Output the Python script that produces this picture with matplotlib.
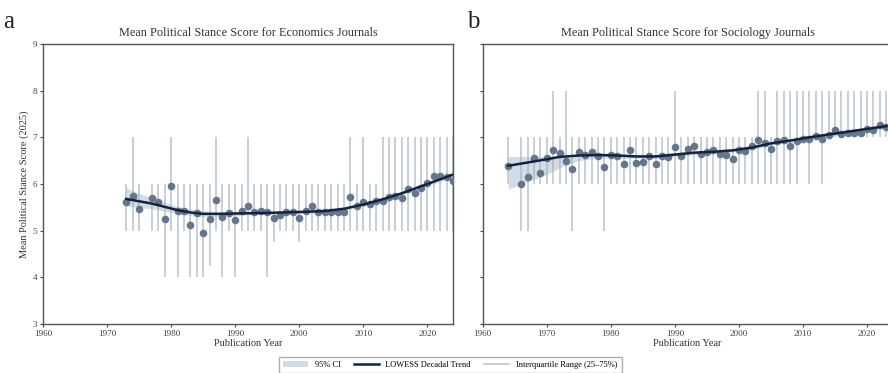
import matplotlib
matplotlib.use('Agg')
import matplotlib.pyplot as plt
from matplotlib.patches import Patch
from matplotlib.lines import Line2D

plt.rcParams['font.family'] = ['Liberation Serif', 'DejaVu Serif']

# ---- Economics journals ----
econ_years = [1973, 1974, 1975, 1977, 1978, 1979, 1980, 1981, 1982, 1983, 1984, 1985, 1986,
              1987, 1988, 1989, 1990, 1991, 1992, 1993, 1994, 1995, 1996, 1997, 1998, 1999,
              2000, 2001, 2002, 2003, 2004, 2005, 2006, 2007, 2008, 2009, 2010, 2011, 2012,
              2013, 2014, 2015, 2016, 2017, 2018, 2019, 2020, 2021, 2022, 2023, 2024]
econ_mean = [5.61, 5.74, 5.46, 5.71, 5.61, 5.24, 5.95, 5.42, 5.43, 5.12, 5.37, 4.95, 5.25,
             5.65, 5.30, 5.37, 5.22, 5.42, 5.53, 5.40, 5.43, 5.39, 5.28, 5.34, 5.40, 5.40,
             5.27, 5.42, 5.52, 5.41, 5.41, 5.41, 5.40, 5.40, 5.73, 5.53, 5.61, 5.57, 5.64,
             5.64, 5.72, 5.74, 5.69, 5.90, 5.80, 5.92, 6.03, 6.18, 6.18, 6.15, 6.07]
econ_q25 = [5, 5, 5, 5, 5, 4, 5, 4, 5, 4, 4, 4, 4.25,
            5, 4, 5, 4, 5, 5, 5, 5, 4, 4.75, 5, 5, 5,
            4.75, 5, 5, 5, 5, 5, 5, 5, 5, 5, 5, 5, 5,
            5, 5, 5, 5, 5, 5, 5, 5, 5, 5, 5, 5]
econ_q75 = [6, 7, 6, 6, 6, 6, 7, 6, 6, 6, 6, 6, 6,
            7, 6, 6, 6, 6, 7, 6, 6, 6, 6, 6, 6, 6,
            6, 6, 6, 6, 6, 6, 6, 6, 7, 6, 7, 6, 6,
            7, 7, 7, 7, 7, 7, 7, 7, 7, 7, 7, 7]
econ_trend_years = [1973, 1975, 1977, 1979, 1981, 1983, 1985, 1988, 1991, 1995, 2000,
                    2004, 2007, 2010, 2013, 2016, 2019, 2022, 2024]
econ_trend = [5.68, 5.63, 5.58, 5.51, 5.44, 5.39, 5.36, 5.36, 5.37, 5.38, 5.40,
              5.42, 5.47, 5.56, 5.67, 5.80, 5.95, 6.10, 6.20]
econ_ci_lo = [5.52, 5.50, 5.47, 5.42, 5.37, 5.32, 5.30, 5.31, 5.33, 5.35, 5.37,
              5.39, 5.44, 5.53, 5.64, 5.77, 5.91, 6.05, 6.14]
econ_ci_hi = [5.92, 5.80, 5.70, 5.61, 5.52, 5.46, 5.42, 5.41, 5.41, 5.41, 5.43,
              5.45, 5.50, 5.59, 5.70, 5.83, 5.99, 6.15, 6.26]

# ---- Sociology journals ----
soc_years = [1964, 1966, 1967, 1968, 1969, 1970, 1971, 1972, 1973, 1974, 1975, 1976, 1977,
             1978, 1979, 1980, 1981, 1982, 1983, 1984, 1985, 1986, 1987, 1988, 1989, 1990,
             1991, 1992, 1993, 1994, 1995, 1996, 1997, 1998, 1999, 2000, 2001, 2002, 2003,
             2004, 2005, 2006, 2007, 2008, 2009, 2010, 2011, 2012, 2013, 2014, 2015, 2016,
             2017, 2018, 2019, 2020, 2021, 2022, 2023]
soc_mean = [6.39, 6.01, 6.16, 6.56, 6.24, 6.56, 6.72, 6.66, 6.50, 6.33, 6.68, 6.63, 6.69,
            6.60, 6.37, 6.62, 6.61, 6.43, 6.72, 6.46, 6.47, 6.59, 6.42, 6.60, 6.58, 6.79,
            6.61, 6.74, 6.81, 6.65, 6.69, 6.72, 6.65, 6.63, 6.53, 6.73, 6.70, 6.82, 6.94,
            6.88, 6.74, 6.92, 6.95, 6.82, 6.92, 6.96, 6.96, 7.02, 6.97, 7.04, 7.15, 7.07,
            7.10, 7.10, 7.09, 7.18, 7.16, 7.26, 7.23]
soc_q25 = [6, 5, 5, 6, 6, 6, 6, 6, 6, 5, 6, 6, 6,
           6, 5, 6, 6, 6, 6, 6, 6, 6, 6, 6, 6, 6,
           6, 6, 6, 6, 6, 6, 6, 6, 6, 6, 6, 6, 6,
           6, 6, 6, 6, 6, 6, 7, 6, 7, 6, 7, 7, 7,
           7, 7, 7, 7, 7, 7, 7]
soc_q75 = [7, 7, 7, 7, 7, 7, 8, 7, 8, 7, 7, 7, 7,
           7, 7, 7, 7, 7, 7, 7, 7, 7, 7, 7, 7, 8,
           7, 7, 7, 7, 7, 7, 7, 7, 7, 7, 7, 7, 8,
           8, 7, 8, 8, 8, 8, 8, 8, 8, 8, 8, 8, 8,
           8, 8, 8, 8, 8, 8, 8]
soc_trend_years = [1964, 1967, 1970, 1972, 1975, 1978, 1981, 1984, 1987, 1990, 1993,
                   1996, 1999, 2002, 2005, 2008, 2011, 2014, 2017, 2020, 2023]
soc_trend = [6.39, 6.46, 6.53, 6.58, 6.61, 6.62, 6.61, 6.59, 6.59, 6.63, 6.67,
             6.69, 6.72, 6.78, 6.87, 6.93, 7.00, 7.06, 7.12, 7.18, 7.24]
soc_ci_lo = [5.89, 6.05, 6.20, 6.35, 6.50, 6.56, 6.56, 6.55, 6.55, 6.59, 6.63,
             6.65, 6.68, 6.74, 6.83, 6.89, 6.96, 7.02, 7.08, 7.14, 7.19]
soc_ci_hi = [6.59, 6.59, 6.59, 6.60, 6.64, 6.67, 6.66, 6.63, 6.63, 6.67, 6.71,
             6.73, 6.76, 6.82, 6.91, 6.97, 7.04, 7.10, 7.16, 7.22, 7.29]

BAR_COLOR = '#c3cbd5'
DOT_COLOR = '#66768a'
LINE_COLOR = '#14233d'
CI_COLOR = '#9fb0c4'


def draw_panel(ax, years, mean, q25, q75, t_years, trend, lo, hi, title):
    ax.vlines(years, q25, q75, color=BAR_COLOR, linewidth=1.3, zorder=1)
    ax.fill_between(t_years, lo, hi, color=CI_COLOR, alpha=0.45, linewidth=0, zorder=2)
    ax.scatter(years, mean, s=30, color=DOT_COLOR, zorder=3, linewidths=0)
    ax.plot(t_years, trend, color=LINE_COLOR, linewidth=1.8, zorder=4)
    ax.set_xlim(1960, 2024)
    ax.set_ylim(3, 9)
    ax.set_xticks([1960, 1970, 1980, 1990, 2000, 2010, 2020])
    ax.set_title(title, fontsize=8.8, color='#333333', pad=6)
    ax.set_xlabel('Publication Year', fontsize=7.5, color='#333333', labelpad=1)
    ax.tick_params(labelsize=6.6, length=2.5, width=0.8, colors='#444444', pad=1.5)
    for sp in ax.spines.values():
        sp.set_color('#555555')
        sp.set_linewidth(1.0)


fig = plt.figure(figsize=(8.88, 3.73), dpi=100)
ax1 = fig.add_axes([0.0484, 0.1314, 0.4617, 0.7507])
ax2 = fig.add_axes([0.5436, 0.1314, 0.4617, 0.7507], sharey=ax1)

draw_panel(ax1, econ_years, econ_mean, econ_q25, econ_q75, econ_trend_years, econ_trend,
           econ_ci_lo, econ_ci_hi, 'Mean Political Stance Score for Economics Journals')
draw_panel(ax2, soc_years, soc_mean, soc_q25, soc_q75, soc_trend_years, soc_trend,
           soc_ci_lo, soc_ci_hi, 'Mean Political Stance Score for Sociology Journals')
ax1.set_ylabel('Mean Political Stance Score (2025)', fontsize=7.5, color='#333333', labelpad=3)
ax2.tick_params(labelleft=False)

fig.text(0.004, 0.925, 'a', fontsize=18, color='#222222')
fig.text(0.526, 0.925, 'b', fontsize=18, color='#222222')

handles = [Patch(facecolor=CI_COLOR, alpha=0.45, edgecolor='none', label='95% CI'),
           Line2D([], [], color=LINE_COLOR, linewidth=1.8, label='LOWESS Decadal Trend'),
           Line2D([], [], color=BAR_COLOR, linewidth=1.3, label='Interquartile Range (25\u201375%)')]
fig.legend(handles=handles, loc='lower center', bbox_to_anchor=(0.507, -0.012), ncol=3,
           fontsize=6, frameon=True, fancybox=False, edgecolor='#999999',
           handlelength=3, columnspacing=1.6, borderpad=0.5)

fig.savefig('out.png', dpi=100)
